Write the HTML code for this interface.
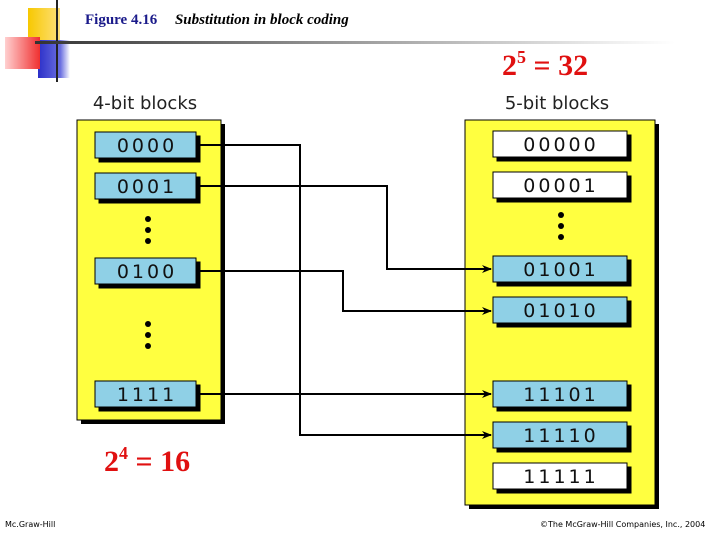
<!DOCTYPE html>
<html><head><style>
body{margin:0;width:720px;height:540px;background:#fff;position:relative;overflow:hidden;font-family:"Liberation Sans",sans-serif}
.a{position:absolute}
</style></head><body>
<div class="a" style="left:28px;top:8px;width:32px;height:32px;background:linear-gradient(90deg,#f7c800,#fde07a)"></div>
<div class="a" style="left:38px;top:40px;width:32px;height:38px;background:linear-gradient(90deg,#2b2fc8,#6a6ee0 70%,#fff)"></div>
<div class="a" style="left:5px;top:37px;width:35px;height:32px;background:linear-gradient(90deg,#ffd0d0,#f03030)"></div>
<div class="a" style="left:56px;top:0;width:2px;height:82px;background:#222"></div>
<div class="a" style="left:35px;top:41px;width:640px;height:3px;background:linear-gradient(90deg,#333,#888 40%,#eee 90%,#fff)"></div>
<div class="a" style="left:85px;top:12px;font:bold 15px 'Liberation Serif',serif;color:#1a1a8a;white-space:nowrap">Figure 4.16 <span style="color:#000;font-style:italic;margin-left:14px">Substitution in block coding</span></div>
<svg class="a" style="left:0;top:0" width="720" height="540">
<defs><marker id="m" markerWidth="10" markerHeight="8" refX="9" refY="4" orient="auto" markerUnits="userSpaceOnUse"><path d="M0,0L10,4L0,8L3,4z" fill="#000"/></marker></defs>
<g font-family="Liberation Serif,serif">
<text x="502" y="75" font-size="30" font-weight="bold" fill="#e01010">2<tspan font-size="18" dy="-12">5</tspan><tspan dy="12"> = 32</tspan></text>
<text x="104" y="471" font-size="30" font-weight="bold" fill="#e01010">2<tspan font-size="18" dy="-12">4</tspan><tspan dy="12"> = 16</tspan></text>
</g>
<g font-family="DejaVu Sans,sans-serif" font-size="18" fill="#222">
<text x="145" y="109" text-anchor="middle">4-bit blocks</text>
<text x="557" y="109" text-anchor="middle">5-bit blocks</text>
</g>
<rect x="81" y="124" width="144" height="300" fill="#000"/>
<rect x="77" y="120" width="144" height="300" fill="#ffff40" stroke="#000"/>
<rect x="469" y="124" width="190" height="385" fill="#000"/>
<rect x="465" y="120" width="190" height="385" fill="#ffff40" stroke="#000"/>
<g stroke="#000" stroke-width="1">
<rect x="99" y="136" width="101" height="26" fill="#000"/><rect x="95" y="132" width="101" height="26" fill="#8fd0e6"/>
<rect x="99" y="177" width="101" height="26" fill="#000"/><rect x="95" y="173" width="101" height="26" fill="#8fd0e6"/>
<rect x="99" y="262" width="101" height="26" fill="#000"/><rect x="95" y="258" width="101" height="26" fill="#8fd0e6"/>
<rect x="99" y="385" width="101" height="26" fill="#000"/><rect x="95" y="381" width="101" height="26" fill="#8fd0e6"/>
<rect x="497" y="135" width="134" height="26" fill="#000"/><rect x="493" y="131" width="134" height="26" fill="#fff"/>
<rect x="497" y="176" width="134" height="26" fill="#000"/><rect x="493" y="172" width="134" height="26" fill="#fff"/>
<rect x="497" y="260" width="134" height="26" fill="#000"/><rect x="493" y="256" width="134" height="26" fill="#8fd0e6"/>
<rect x="497" y="301" width="134" height="26" fill="#000"/><rect x="493" y="297" width="134" height="26" fill="#8fd0e6"/>
<rect x="497" y="385" width="134" height="26" fill="#000"/><rect x="493" y="381" width="134" height="26" fill="#8fd0e6"/>
<rect x="497" y="426" width="134" height="26" fill="#000"/><rect x="493" y="422" width="134" height="26" fill="#8fd0e6"/>
<rect x="497" y="467" width="134" height="26" fill="#000"/><rect x="493" y="463" width="134" height="26" fill="#fff"/>
</g>
<g font-family="DejaVu Sans,sans-serif" font-size="19" fill="#111" text-anchor="middle" letter-spacing="3">
<text x="147" y="152">0000</text><text x="147" y="193">0001</text><text x="147" y="278">0100</text><text x="147" y="401">1111</text>
<text x="561" y="151">00000</text><text x="561" y="192">00001</text><text x="561" y="276">01001</text><text x="561" y="317">01010</text>
<text x="561" y="401">11101</text><text x="561" y="442">11110</text><text x="561" y="483">11111</text>
</g>
<g fill="#000">
<circle cx="148" cy="219" r="3"/><circle cx="148" cy="230" r="3"/><circle cx="148" cy="241" r="3"/>
<circle cx="148" cy="324" r="3"/><circle cx="148" cy="335" r="3"/><circle cx="148" cy="346" r="3"/>
<circle cx="561" cy="215" r="3"/><circle cx="561" cy="226" r="3"/><circle cx="561" cy="237" r="3"/>
</g>
<g stroke="#000" stroke-width="2" fill="none" marker-end="url(#m)">
<polyline points="196,145 300,145 300,435 491,435"/>
<polyline points="196,186 387,186 387,269 491,269"/>
<polyline points="196,271 343,271 343,311 491,311"/>
<polyline points="196,394 491,394"/>
</g>
<text x="5" y="527" font-size="8" font-family="DejaVu Sans,sans-serif">Mc.Graw-Hill</text>
<text x="540" y="527" font-size="8" font-family="DejaVu Sans,sans-serif">©The McGraw-Hill Companies, Inc., 2004</text>
</svg>
</body></html>
